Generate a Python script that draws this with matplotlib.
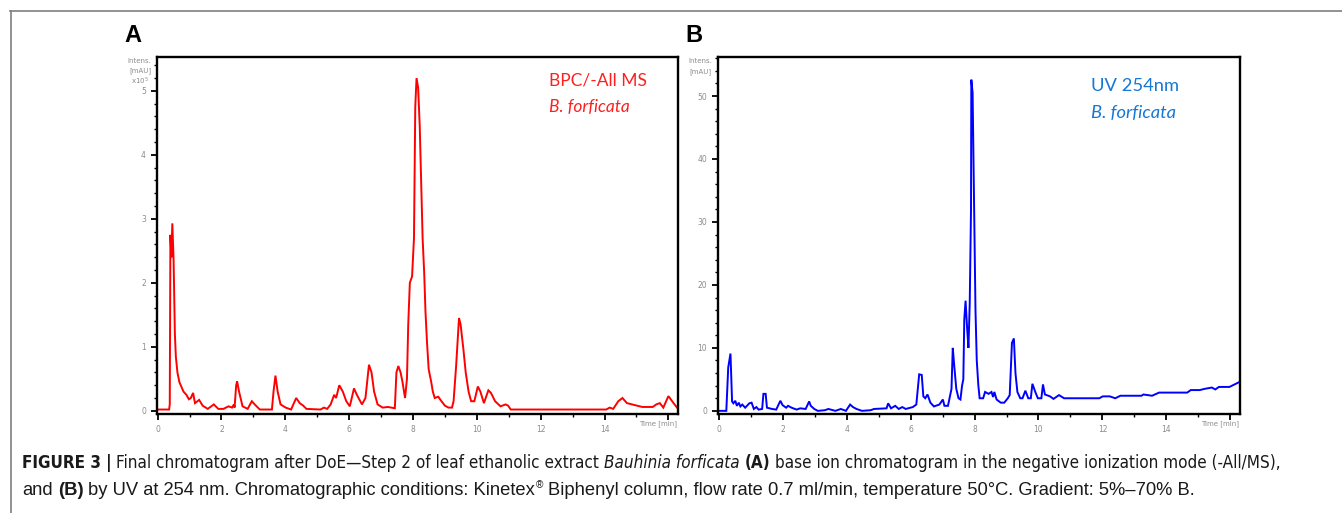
import os
import matplotlib
matplotlib.use("Agg")
import matplotlib.pyplot as plt
from matplotlib.ticker import MultipleLocator, FuncFormatter
from matplotlib.transforms import IdentityTransform
from matplotlib.lines import Line2D
from matplotlib import font_manager
from matplotlib.font_manager import FontProperties

# ---------------- data ----------------
# (A) base peak chromatogram, -All MS, intensity x10^5
bpc_time = [
    0.00, 0.36, 0.38, 0.40, 0.43, 0.46, 0.50, 0.54, 0.57, 0.62,
    0.68, 0.74, 0.81, 0.90, 0.98, 1.04, 1.11, 1.17, 1.30, 1.41,
    1.57, 1.76, 1.90, 2.06, 2.22, 2.33, 2.39, 2.41, 2.46, 2.49,
    2.55, 2.66, 2.82, 2.95, 3.04, 3.20, 3.58, 3.63, 3.69, 3.76,
    3.85, 4.01, 4.18, 4.34, 4.45, 4.56, 4.66, 5.10, 5.21, 5.31,
    5.42, 5.53, 5.59, 5.69, 5.80, 5.91, 6.02, 6.15, 6.24, 6.40,
    6.51, 6.62, 6.70, 6.78, 6.89, 7.05, 7.21, 7.43, 7.48, 7.54,
    7.61, 7.67, 7.75, 7.81, 7.85, 7.90, 7.97, 8.03, 8.07, 8.11,
    8.16, 8.21, 8.25, 8.30, 8.35, 8.39, 8.44, 8.49, 8.57, 8.62,
    8.68, 8.79, 8.89, 9.00, 9.11, 9.22, 9.27, 9.35, 9.44, 9.49,
    9.58, 9.65, 9.74, 9.82, 9.92, 10.03, 10.11, 10.22, 10.36, 10.44,
    10.57, 10.74, 10.90, 10.98, 11.06, 14.05, 14.16, 14.27, 14.43, 14.56,
    14.70, 14.86, 15.02, 15.18, 15.51, 15.62, 15.73, 15.84, 16.00, 16.16,
    16.27,
]
bpc_intensity = [
    0.02, 0.02, 0.10, 2.75, 2.40, 2.93, 2.35, 1.20, 0.85, 0.60,
    0.45, 0.38, 0.30, 0.25, 0.18, 0.20, 0.28, 0.12, 0.17, 0.08,
    0.03, 0.10, 0.03, 0.03, 0.07, 0.05, 0.10, 0.05, 0.40, 0.46,
    0.30, 0.07, 0.03, 0.15, 0.10, 0.02, 0.02, 0.30, 0.55, 0.30,
    0.10, 0.05, 0.02, 0.20, 0.12, 0.08, 0.03, 0.02, 0.05, 0.03,
    0.10, 0.25, 0.20, 0.40, 0.30, 0.15, 0.07, 0.35, 0.25, 0.10,
    0.20, 0.72, 0.60, 0.30, 0.10, 0.05, 0.06, 0.04, 0.60, 0.70,
    0.60, 0.45, 0.20, 0.50, 1.35, 2.00, 2.10, 2.70, 4.75, 5.20,
    5.05, 4.45, 3.65, 2.70, 2.15, 1.55, 1.05, 0.65, 0.45, 0.30,
    0.20, 0.22, 0.15, 0.08, 0.05, 0.05, 0.15, 0.70, 1.45, 1.35,
    0.95, 0.60, 0.30, 0.15, 0.15, 0.38, 0.30, 0.12, 0.32, 0.28,
    0.15, 0.07, 0.10, 0.08, 0.02, 0.02, 0.05, 0.03, 0.15, 0.20,
    0.12, 0.10, 0.08, 0.06, 0.06, 0.10, 0.12, 0.05, 0.23, 0.12,
    0.05,
]

# (B) UV trace at 254 nm, mAU
uv_time = [
    0.00, 0.24, 0.30, 0.37, 0.42, 0.46, 0.52, 0.57, 0.63, 0.68,
    0.74, 0.83, 0.96, 1.03, 1.10, 1.18, 1.25, 1.36, 1.40, 1.47,
    1.51, 1.67, 1.80, 1.93, 2.00, 2.11, 2.17, 2.28, 2.44, 2.55,
    2.72, 2.83, 2.88, 2.99, 3.10, 3.32, 3.43, 3.65, 3.82, 3.98,
    4.11, 4.20, 4.31, 4.48, 4.75, 4.86, 5.25, 5.30, 5.39, 5.52,
    5.63, 5.74, 5.85, 6.07, 6.18, 6.27, 6.35, 6.40, 6.46, 6.53,
    6.62, 6.73, 6.90, 7.01, 7.06, 7.17, 7.28, 7.32, 7.36, 7.43,
    7.50, 7.56, 7.61, 7.65, 7.68, 7.72, 7.77, 7.81, 7.85, 7.89,
    7.90, 7.94, 7.99, 8.03, 8.07, 8.12, 8.16, 8.27, 8.33, 8.44,
    8.53, 8.58, 8.62, 8.69, 8.82, 8.93, 9.04, 9.10, 9.17, 9.23,
    9.28, 9.34, 9.43, 9.50, 9.59, 9.68, 9.76, 9.81, 9.90, 9.98,
    10.09, 10.14, 10.20, 10.36, 10.47, 10.64, 10.80, 11.24, 11.90, 12.01,
    12.23, 12.40, 12.56, 13.22, 13.28, 13.55, 13.77, 14.65, 14.76, 15.04,
    15.20, 15.42, 15.53, 15.64, 15.97, 16.25,
]
uv_absorbance = [
    0.0, 0.0, 6.9, 9.1, 1.5, 1.2, 1.6, 0.8, 1.3, 0.7,
    1.0, 0.5, 1.2, 1.3, 0.3, 0.6, 0.2, 0.3, 2.7, 2.7,
    0.5, 0.3, 0.2, 1.6, 0.9, 0.5, 0.8, 0.5, 0.2, 0.4,
    0.3, 1.5, 0.8, 0.3, 0.0, 0.1, 0.3, 0.0, 0.3, 0.0,
    1.0, 0.6, 0.3, 0.0, 0.1, 0.3, 0.4, 1.2, 0.4, 0.8,
    0.3, 0.6, 0.3, 0.6, 1.0, 5.8, 5.7, 2.3, 2.0, 2.6,
    1.3, 0.7, 1.0, 1.8, 0.8, 0.8, 3.5, 10.0, 7.5, 3.5,
    2.0, 1.8, 4.0, 5.0, 14.5, 17.5, 13.0, 10.0, 17.0, 32.0,
    52.6, 50.5, 31.5, 16.0, 8.0, 4.0, 2.0, 2.0, 3.0, 2.7,
    3.0, 2.2, 3.0, 1.8, 1.3, 1.3, 2.0, 2.5, 10.8, 11.5,
    6.0, 3.0, 2.0, 2.0, 3.2, 2.0, 2.0, 4.3, 3.0, 2.0,
    2.0, 4.2, 2.6, 2.3, 1.9, 2.5, 2.0, 2.0, 2.0, 2.3,
    2.3, 2.0, 2.4, 2.4, 2.6, 2.4, 2.9, 2.9, 3.3, 3.3,
    3.5, 3.7, 3.4, 3.8, 3.8, 4.5,
]

x_ticks = [0, 2, 4, 6, 8, 10, 12, 14, 16]
bpc_yticks = [0, 1, 2, 3, 4, 5]
uv_yticks = [0, 10, 20, 30, 40, 50]

# ---------------- figure ----------------
W, H = 1342, 513
fig = plt.figure(figsize=(W / 100, H / 100), dpi=100)
fig.patch.set_facecolor("white")
PIX = IdentityTransform()


def ypx(y):
    return H - y


def axes_px(left, top, right, bottom):
    return fig.add_axes([left / W, 1 - bottom / H, (right - left) / W, (bottom - top) / H])


TICK_GREY = "#8c8c8c"


def style_axes(ax, ylim, yticks, yminor):
    for s in ax.spines.values():
        s.set_linewidth(1.7)
        s.set_color("black")
    ax.set_xlim(-0.02, 16.3)
    ax.set_ylim(*ylim)
    ax.set_xticks(x_ticks)
    ax.xaxis.set_minor_locator(MultipleLocator(1))
    ax.xaxis.set_major_formatter(FuncFormatter(lambda v, p: "" if v >= 15.5 else f"{v:g}"))
    ax.set_yticks(yticks)
    ax.yaxis.set_minor_locator(MultipleLocator(yminor))
    ax.tick_params(which="major", direction="out", length=4, width=1.3,
                   labelsize=5.5, labelcolor=TICK_GREY, pad=4, top=False, right=False)
    ax.tick_params(which="minor", direction="out", length=2.5, width=1.0,
                   top=False, right=False)


axA = axes_px(157, 57, 678, 414)
axB = axes_px(718, 57, 1240, 414)

axA.plot(bpc_time, bpc_intensity, color="#ff0000", lw=1.4, solid_joinstyle="miter")
axB.plot(uv_time, uv_absorbance, color="#0000ff", lw=1.4, solid_joinstyle="miter")

style_axes(axA, (-0.05, 5.53), bpc_yticks, 0.2)
style_axes(axB, (-0.5, 56.2), uv_yticks, 2)

# axis captions in the instrument style
small = dict(fontsize=5, color=TICK_GREY, transform=PIX, family="DejaVu Sans")
fig.text(151, ypx(61), "Intens.", ha="right", va="center", **small)
fig.text(151, ypx(71), "[mAU]", ha="right", va="center", **small)
fig.text(149, ypx(81), r"x10$^5$", ha="right", va="center", **small)
fig.text(712, ypx(61), "Intens.", ha="right", va="center", **small)
fig.text(712, ypx(72), "[mAU]", ha="right", va="center", **small)
fig.text(677, ypx(424), "Time [min]", ha="right", va="center", **small)
fig.text(1239, ypx(424), "Time [min]", ha="right", va="center", **small)

# trace legends
fig.text(549, ypx(81), "BPC/-All MS", color="#ff1f1f", fontsize=12.5,
         family="Lato", transform=PIX, va="center")
fig.text(549, ypx(107), "B. forficata", color="#ff1f1f", fontsize=12.5,
         family="Lato", style="italic", transform=PIX, va="center")
fig.text(1091, ypx(86), "UV 254nm", color="#1577d6", fontsize=13.2,
         family="Lato", transform=PIX, va="center")
fig.text(1091, ypx(113), "B. forficata", color="#1577d6", fontsize=13.2,
         family="Lato", style="italic", transform=PIX, va="center")

# panel letters
fig.text(124, ypx(35), "A", fontsize=17, fontweight="bold", family="Liberation Sans",
         transform=PIX, va="center")
fig.text(685, ypx(35), "B", fontsize=17, fontweight="bold", family="Liberation Sans",
         transform=PIX, va="center")

# frame lines of the figure box
fig.add_artist(Line2D([10 / W, 1], [1 - 10.5 / H, 1 - 10.5 / H], color="#7f7f7f", lw=1.2))
fig.add_artist(Line2D([10.5 / W, 10.5 / W], [0, 1 - 10.5 / H], color="#7f7f7f", lw=1.2))

# ---------------- caption ----------------
font_files = {os.path.basename(f.fname).lower(): f.fname
              for f in font_manager.fontManager.ttflist}

CONDENSED_SETS = [
    {("normal", "normal"): "liberationsansnarrow-regular.ttf",
     ("bold", "normal"): "liberationsansnarrow-bold.ttf",
     ("normal", "italic"): "liberationsansnarrow-italic.ttf"},
    {("normal", "normal"): "dejavusanscondensed.ttf",
     ("bold", "normal"): "dejavusanscondensed-bold.ttf",
     ("normal", "italic"): "dejavusanscondensed-oblique.ttf"},
]
condensed = "Roboto"
for cset in CONDENSED_SETS:
    if all(v in font_files for v in cset.values()):
        condensed = {k: font_files[v] for k, v in cset.items()}
        break

renderer = fig.canvas.get_renderer()


def props(family, weight, style, size):
    if isinstance(family, dict):
        return FontProperties(fname=family[(weight, style)], size=size)
    return FontProperties(family=family, weight=weight, style=style, size=size)


def text_width(s, size, family, weight="normal", style="normal"):
    t = fig.text(0, 0, s, fontproperties=props(family, weight, style, size), transform=PIX)
    w = t.get_window_extent(renderer).width
    t.remove()
    return w


def layout_runs(runs, size, family):
    """x offset of every run and the total line width."""
    space = text_width("a a", size, family) - text_width("aa", size, family)
    x = 0.0
    xs = []
    for text, weight, style, sup, gap in runs:
        sz = size * 0.55 if sup else size
        xs.append(x)
        x += text_width(text, sz, family, weight, style)
        if gap:
            x += space
    return xs, x


def draw_caption_line(runs, x0, baseline, target_width, family, base_size=12):
    _, w = layout_runs(runs, base_size, family)
    size = base_size * target_width / w
    xs, _ = layout_runs(runs, size, family)
    for (text, weight, style, sup, gap), xo in zip(runs, xs):
        sz = size * 0.55 if sup else size
        yb = baseline - (size * 0.55 if sup else 0)
        fig.text(x0 + xo, ypx(yb), text, fontproperties=props(family, weight, style, sz),
                 transform=PIX, va="baseline", ha="left", color="#1a1a1a")


line1 = [
    ("FIGURE 3", "bold", "normal", False, True),
    ("|", "bold", "normal", False, True),
    ("Final chromatogram after DoE\u2014Step 2 of leaf ethanolic extract", "normal", "normal", False, True),
    ("Bauhinia forficata", "normal", "italic", False, True),
    ("(A)", "bold", "normal", False, True),
    ("base ion chromatogram in the negative ionization mode (-All/MS),", "normal", "normal", False, False),
]
line2 = [
    ("and", "normal", "normal", False, True),
    ("(B)", "bold", "normal", False, True),
    ("by UV at 254 nm. Chromatographic conditions: Kinetex", "normal", "normal", False, False),
    ("\u00ae", "normal", "normal", True, True),
    ("Biphenyl column, flow rate 0.7 ml/min, temperature 50\u00b0C. Gradient: 5%\u201370% B.",
     "normal", "normal", False, False),
]

draw_caption_line(line1, 22, 468, 1261, condensed)
draw_caption_line(line2, 22, 495, 1173, "Liberation Sans")

fig.savefig("out.png", dpi=100, facecolor="white")
